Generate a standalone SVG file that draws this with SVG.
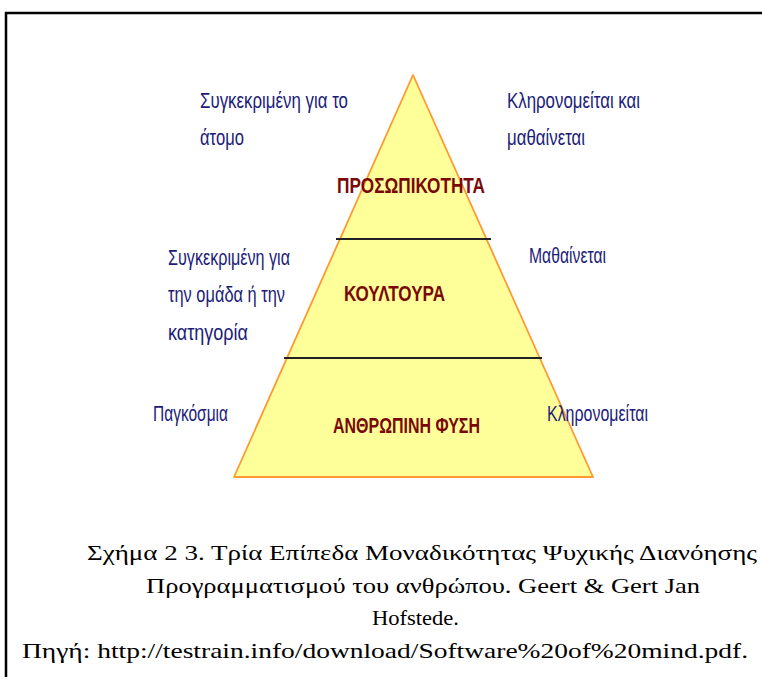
<svg xmlns="http://www.w3.org/2000/svg" width="762" height="677" viewBox="0 0 762 677">
<style>
.lbl{font-family:"Liberation Sans",Arial,sans-serif;font-size:22px;fill:#1c1c78}
.lvl{font-family:"Liberation Sans",Arial,sans-serif;font-size:22px;font-weight:bold;fill:#7a0808}
.cap{font-family:"Liberation Serif","Times New Roman",serif;font-size:22px;fill:#000}
.div{stroke:#222;stroke-width:2}
</style>
<rect width="762" height="677" fill="#fff"/>
<g id="frame">
<polyline points="6,677 6,13 762,13" fill="none" stroke="#000" stroke-width="2.5"/>
</g>
<g id="pyramid">
<polygon points="413,75 234,477 593,477" fill="#ffff99" stroke="#ff9933" stroke-width="1.8" stroke-linejoin="round"/>
</g>
<g id="connectors">
<line class="div" x1="336" y1="239" x2="491" y2="239"/>
<line class="div" x1="284" y1="358" x2="542" y2="358"/>
</g>
<g id="level-personality">
<text class="lvl" x="337" y="193" textLength="148" lengthAdjust="spacingAndGlyphs">ΠΡΟΣΩΠΙΚΟΤΗΤΑ</text>
</g>
<g id="level-culture">
<text class="lvl" x="344" y="301" textLength="101" lengthAdjust="spacingAndGlyphs">ΚΟΥΛΤΟΥΡΑ</text>
</g>
<g id="level-nature">
<text class="lvl" x="333" y="433" textLength="147" lengthAdjust="spacingAndGlyphs">ΑΝΘΡΩΠΙΝΗ ΦΥΣΗ</text>
</g>
<g id="left-labels">
<text class="lbl" x="200" y="108" textLength="148" lengthAdjust="spacingAndGlyphs">Συγκεκριμένη για το</text>
<text class="lbl" x="200" y="145" textLength="44" lengthAdjust="spacingAndGlyphs">άτομο</text>
<text class="lbl" x="168" y="265" textLength="122" lengthAdjust="spacingAndGlyphs">Συγκεκριμένη για</text>
<text class="lbl" x="168" y="302" textLength="117" lengthAdjust="spacingAndGlyphs">την ομάδα ή την</text>
<text class="lbl" x="168" y="340" textLength="80" lengthAdjust="spacingAndGlyphs">κατηγορία</text>
<text class="lbl" x="153" y="421" textLength="75" lengthAdjust="spacingAndGlyphs">Παγκόσμια</text>
</g>
<g id="right-labels">
<text class="lbl" x="507" y="108" textLength="133" lengthAdjust="spacingAndGlyphs">Κληρονομείται και</text>
<text class="lbl" x="507" y="145" textLength="78" lengthAdjust="spacingAndGlyphs">μαθαίνεται</text>
<text class="lbl" x="529" y="263" textLength="77" lengthAdjust="spacingAndGlyphs">Μαθαίνεται</text>
<text class="lbl" x="547" y="421" textLength="101" lengthAdjust="spacingAndGlyphs">Κληρονομείται</text>
</g>
<g id="caption">
<text class="cap" x="87" y="560" textLength="670" lengthAdjust="spacingAndGlyphs">Σχήμα 2 3. Τρία Επίπεδα Μοναδικότητας Ψυχικής Διανόησης</text>
<text class="cap" x="146" y="593" textLength="554" lengthAdjust="spacingAndGlyphs">Προγραμματισμού του ανθρώπου. Geert &amp; Gert Jan</text>
<text class="cap" x="372" y="625" textLength="87" lengthAdjust="spacingAndGlyphs">Hofstede.</text>
<text class="cap" x="22" y="658" textLength="726" lengthAdjust="spacingAndGlyphs">Πηγή: http://testrain.info/download/Software%20of%20mind.pdf.</text>
</g>
</svg>
